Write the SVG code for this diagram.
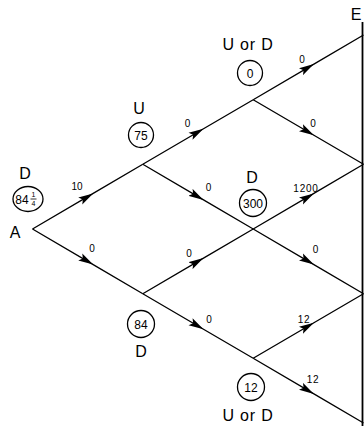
<svg xmlns="http://www.w3.org/2000/svg" width="364" height="438" viewBox="0 0 364 438">
<style>
.e{fill:none;stroke:#000;stroke-width:1.3;marker-mid:url(#ah)}
.c{fill:none;stroke:#000;stroke-width:1.3}
.lb{font-family:"Liberation Sans",Arial,sans-serif;font-size:10px;fill:#000;text-anchor:middle}
.nl{font-family:"Liberation Sans",Arial,sans-serif;font-size:16px;fill:#000;text-anchor:middle}
.nv{font-family:"Liberation Sans",Arial,sans-serif;font-size:12px;fill:#000;text-anchor:middle}
</style>
<defs>
<marker id="ah" markerWidth="16" markerHeight="9" viewBox="0 0 16 9" refX="15" refY="4.5" orient="auto" markerUnits="userSpaceOnUse">
<path d="M0,0.5 L15,4.5 L0,8.5 L3,4.5 z" fill="#000"/>
</marker>
</defs>
<rect width="364" height="438" fill="#fff"/>
<g id="connectors">
<polyline class="e" points="32.5,229 93.2,193.4 142.8,164.3"/>
<polyline class="e" points="32.5,229 93.2,264.6 142.8,293.7"/>
<polyline class="e" points="142.8,164.3 203.5,128.7 253.2,99.7"/>
<polyline class="e" points="142.8,164.3 203.5,199.9 253.2,229"/>
<polyline class="e" points="253.2,99.7 313.9,64.1 363.5,35"/>
<polyline class="e" points="253.2,99.7 313.9,135.3 363.5,164.3"/>
<polyline class="e" points="142.8,293.7 203.5,258.1 253.2,229"/>
<polyline class="e" points="142.8,293.7 203.5,329.3 253.2,358.3"/>
<polyline class="e" points="253.2,229 313.9,193.4 363.5,164.3"/>
<polyline class="e" points="253.2,229 313.9,264.6 363.5,293.7"/>
<polyline class="e" points="253.2,358.3 313.9,322.7 363.5,293.7"/>
<polyline class="e" points="253.2,358.3 313.9,393.9 363.5,423"/>
<line x1="362.5" y1="22" x2="362.5" y2="426" stroke="#000" stroke-width="1.8"/>
<text class="lb" x="77" y="190">10</text>
<text class="lb" x="92" y="252">0</text>
<text class="lb" x="187.5" y="127">0</text>
<text class="lb" x="208.5" y="190.5">0</text>
<text class="lb" x="302" y="62.5">0</text>
<text class="lb" x="313" y="127">0</text>
<text class="lb" x="189" y="256.5">0</text>
<text class="lb" x="209" y="322.5">0</text>
<text class="lb" x="306" y="191.5" letter-spacing="0.8">1200</text>
<text class="lb" x="315.5" y="253">0</text>
<text class="lb" x="304" y="322.5" letter-spacing="0.8">12</text>
<text class="lb" x="313" y="382.5" letter-spacing="0.8">12</text>
</g>
<g id="node-A">
<text class="nl" x="25" y="179">D</text>
<ellipse class="c" cx="28" cy="199" rx="15" ry="12.5"/>
<text class="nv" x="22" y="204">84</text>
<text font-family="Liberation Sans,Arial,sans-serif" font-size="7" x="33.5" y="197" text-anchor="middle">1</text>
<line x1="30.5" y1="199" x2="36.5" y2="199" stroke="#000" stroke-width="0.8"/>
<text font-family="Liberation Sans,Arial,sans-serif" font-size="7" x="33.5" y="206" text-anchor="middle">4</text>
<text class="nl" x="15" y="238" font-size="17">A</text>
</g>
<g id="node-U1">
<text class="nl" x="139" y="114">U</text>
<circle class="c" cx="141" cy="135" r="12.5"/>
<text class="nv" x="141" y="139.5">75</text>
</g>
<g id="node-UD-top">
<text class="nl" x="248" y="50" letter-spacing="0.8">U or D</text>
<circle class="c" cx="250" cy="73" r="12.5"/>
<text class="nv" x="250" y="77.5">0</text>
</g>
<g id="node-D-mid">
<text class="nl" x="252" y="183">D</text>
<circle class="c" cx="253" cy="203" r="13.5"/>
<text class="nv" x="253" y="207.5" font-size="13">300</text>
</g>
<g id="node-D-low">
<circle class="c" cx="141" cy="324" r="13.5"/>
<text class="nv" x="141" y="328.5">84</text>
<text class="nl" x="141" y="357">D</text>
</g>
<g id="node-UD-bottom">
<circle class="c" cx="251" cy="387" r="13.5"/>
<text class="nv" x="251" y="391.5">12</text>
<text class="nl" x="248" y="421" letter-spacing="0.8">U or D</text>
</g>
<g id="node-E">
<text class="nl" x="356" y="20" text-anchor="start">E</text>
</g>
</svg>
